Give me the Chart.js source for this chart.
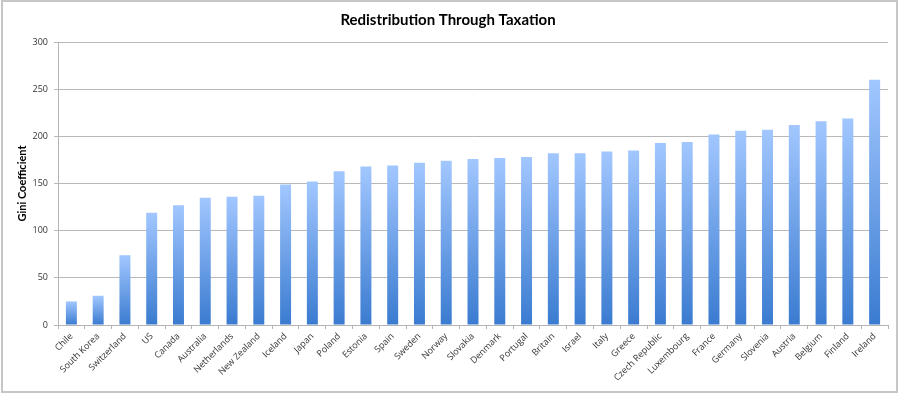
<!DOCTYPE html>
<html>
<head>
<meta charset="utf-8">
<script src="https://cdn.jsdelivr.net/npm/chart.js@4.4.1/dist/chart.umd.min.js"></script>
<style>
  html, body { margin: 0; padding: 0; background: #fff; }
  #wrap { width: 901px; height: 395px; position: relative; }
</style>
</head>
<body>
<div id="wrap"><canvas id="chart"></canvas></div>
<script>
// ---------------- Data ----------------
const COUNTRIES = [
  "Chile", "South Korea", "Switzerland", "US", "Canada", "Australia",
  "Netherlands", "New Zealand", "Iceland", "Japan", "Poland", "Estonia",
  "Spain", "Sweden", "Norway", "Slovakia", "Denmark", "Portugal", "Britain",
  "Israel", "Italy", "Greece", "Czech Republic", "Luxembourg", "France",
  "Germany", "Slovenia", "Austria", "Belgium", "Finland", "Ireland"
];
const GINI_VALUES = [
  25, 31, 74, 119, 127, 135,
  136, 137, 149, 152, 163, 168,
  169, 172, 174, 176, 177, 178, 182,
  182, 184, 185, 193, 194, 202,
  206, 207, 212, 216, 219, 260
];
const Y_TICKS = [0, 50, 100, 150, 200, 250, 300];

const TITLE = "Redistribution Through Taxation";
const Y_TITLE = "Gini Coefficient";

// ---------------- Helpers ----------------
function barGradient(ctx) {
  const chart = ctx.chart;
  if (!chart.chartArea) return "#6b9fe6";
  const y = chart.scales.y;
  const top = y.getPixelForValue(ctx.raw);
  const bottom = y.getPixelForValue(0);
  const g = chart.ctx.createLinearGradient(0, top, 0, bottom);
  g.addColorStop(0, "#a2c7ff");
  g.addColorStop(1, "#3a7bd0");
  return g;
}

const framePlugin = {
  id: "frame",
  beforeDraw(chart) {
    const c = chart.ctx;
    c.save();
    c.fillStyle = "#fff";
    c.fillRect(0, 0, chart.width, chart.height);
    c.strokeStyle = "#c6c6c6";
    c.lineWidth = 2;
    c.strokeRect(2, 1, 895, 391);
    c.restore();
  }
};

// ---------------- Chart ----------------
new Chart(document.getElementById("chart"), {
  type: "bar",
  data: {
    labels: COUNTRIES,
    datasets: [{
      label: Y_TITLE,
      data: GINI_VALUES,
      backgroundColor: barGradient,
      borderWidth: 0,
      barPercentage: 0.41,
      categoryPercentage: 1.0
    }]
  },
  options: {
    responsive: true,
    maintainAspectRatio: false,
    animation: false,
    layout: { padding: { left: 8, right: 13, top: 8, bottom: 3 } },
    plugins: {
      legend: { display: false },
      tooltip: { enabled: false },
      title: {
        display: true,
        text: TITLE,
        color: "#000",
        font: { family: "Lato", size: 15, weight: "bold" },
        padding: { top: 3, bottom: 13 }
      }
    },
    scales: {
      x: {
        grid: {
          display: true,
          drawOnChartArea: false,
          offset: true,
          tickLength: 4,
          color: "#b4b4b4"
        },
        border: { color: "#b4b4b4" },
        ticks: {
          autoSkip: false,
          minRotation: 45,
          maxRotation: 45,
          padding: 2,
          color: "#333",
          font: { family: "Open Sans", size: 9 }
        },
        afterFit(scale) { scale.height = 67; }
      },
      y: {
        min: 0,
        max: 300,
        afterBuildTicks(scale) { scale.ticks = Y_TICKS.map(v => ({ value: v })); },
        grid: { color: "#b8b8b8", tickLength: 4 },
        border: { color: "#b4b4b4" },
        ticks: {
          padding: 6,
          color: "#333",
          font: { family: "Open Sans", size: 9 }
        },
        title: {
          display: true,
          text: Y_TITLE,
          color: "#000",
          font: { family: "Lato", size: 11, weight: "bold" },
          padding: { top: 8, bottom: 0 }
        },
        afterFit(scale) { scale.width = 50; }
      }
    }
  },
  plugins: [framePlugin]
});
</script>
</body>
</html>
